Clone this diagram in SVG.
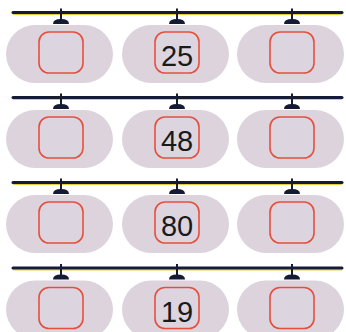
<svg xmlns="http://www.w3.org/2000/svg" width="346" height="332" viewBox="0 0 346 332">
<style>
.bg{fill:#ffffff}
.rail{stroke:#151a35;stroke-width:3;stroke-linecap:round}
.rail2{stroke:#e6cf3a;stroke-width:1.2}
.stem{stroke:#151a35;stroke-width:2}
.cap{fill:#151a35}
.pill{fill:#dcd3dd}
.box{fill:#dcd5e0;stroke:#e5503e;stroke-width:1.6}
.num{font-family:"Liberation Sans",Arial,sans-serif;font-size:29px;fill:#1a1a1a;text-anchor:middle}
</style>
<defs>
<g id="hanger">
<line class="stem" x1="0" y1="8.5" x2="0" y2="20"/>
<path class="cap" d="M-8,24 Q-8,19 0,19 Q8,19 8,24 Z"/>
</g>
<g id="cab">
<rect class="pill" x="-55" y="25" width="107" height="58" rx="29"/>
<rect class="box" x="-22" y="32" width="44" height="41" rx="10"/>
</g>
</defs>
<rect class="bg" x="0" y="0" width="346" height="332"/>
<g id="connectors">
<g transform="translate(0,0)"><line class="rail2" x1="13" y1="14.5" x2="342" y2="14.5"/><line class="rail" x1="13" y1="12.5" x2="342" y2="12.5"/></g>
<g transform="translate(0,85)"><line class="rail2" x1="13" y1="14.5" x2="342" y2="14.5"/><line class="rail" x1="13" y1="12.5" x2="342" y2="12.5"/></g>
<g transform="translate(0,170)"><line class="rail2" x1="13" y1="14.5" x2="342" y2="14.5"/><line class="rail" x1="13" y1="12.5" x2="342" y2="12.5"/></g>
<g transform="translate(0,255.5)"><line class="rail2" x1="13" y1="14.5" x2="342" y2="14.5"/><line class="rail" x1="13" y1="12.5" x2="342" y2="12.5"/></g>
</g>
<g id="row1">
<g id="r1c1" transform="translate(61,0)"><use href="#hanger"/><use href="#cab"/></g>
<g id="r1c2" transform="translate(177,0)"><use href="#hanger"/><use href="#cab"/><text class="num" x="0" y="66">25</text></g>
<g id="r1c3" transform="translate(292,0)"><use href="#hanger"/><use href="#cab"/></g>
</g>
<g id="row2">
<g id="r2c1" transform="translate(61,85)"><use href="#hanger"/><use href="#cab"/></g>
<g id="r2c2" transform="translate(177,85)"><use href="#hanger"/><use href="#cab"/><text class="num" x="0" y="66">48</text></g>
<g id="r2c3" transform="translate(292,85)"><use href="#hanger"/><use href="#cab"/></g>
</g>
<g id="row3">
<g id="r3c1" transform="translate(61,170)"><use href="#hanger"/><use href="#cab"/></g>
<g id="r3c2" transform="translate(177,170)"><use href="#hanger"/><use href="#cab"/><text class="num" x="0" y="66">80</text></g>
<g id="r3c3" transform="translate(292,170)"><use href="#hanger"/><use href="#cab"/></g>
</g>
<g id="row4">
<g id="r4c1" transform="translate(61,255.5)"><use href="#hanger"/><use href="#cab"/></g>
<g id="r4c2" transform="translate(177,255.5)"><use href="#hanger"/><use href="#cab"/><text class="num" x="0" y="66">19</text></g>
<g id="r4c3" transform="translate(292,255.5)"><use href="#hanger"/><use href="#cab"/></g>
</g>
</svg>
